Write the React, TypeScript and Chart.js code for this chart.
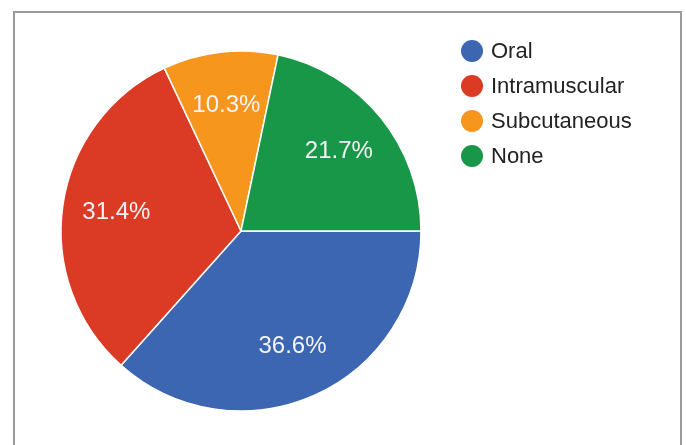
import React, { useEffect, useRef } from "react";
import { Chart, registerables } from "chart.js";

Chart.register(...registerables);

const categories = ["Oral", "Intramuscular", "Subcutaneous", "None"];
const values = [36.6, 31.4, 10.3, 21.7];
const colors = ["#3c66b1", "#db3a24", "#f7961d", "#199748"];

const FONT = "'Liberation Sans', Arial, sans-serif";

const sliceLabels = {
  id: "sliceLabels",
  afterDatasetsDraw(chart: any) {
    const ctx = chart.ctx;
    const meta = chart.getDatasetMeta(0);
    const ds = chart.data.datasets[0];
    const total = (ds.data as number[]).reduce((a, b) => a + b, 0);
    ctx.save();
    ctx.font = `24px ${FONT}`;
    ctx.fillStyle = "#f4f4f8";
    ctx.textAlign = "center";
    ctx.textBaseline = "middle";
    meta.data.forEach((arc: any, i: number) => {
      const { x, y, startAngle, endAngle, outerRadius } = arc.getProps(
        ["x", "y", "startAngle", "endAngle", "outerRadius"],
        true
      );
      const mid = (startAngle + endAngle) / 2;
      const r = outerRadius * 0.7;
      const pct = ((ds.data[i] as number) / total) * 100;
      ctx.fillText(pct.toFixed(1) + "%", x + Math.cos(mid) * r, y + Math.sin(mid) * r);
    });
    ctx.restore();
  },
};

const customLegend = {
  id: "customLegend",
  afterDraw(chart: any) {
    const ctx = chart.ctx;
    const labels = chart.data.labels as string[];
    const bg = chart.data.datasets[0].backgroundColor as string[];
    ctx.save();
    ctx.font = `22px ${FONT}`;
    ctx.textBaseline = "middle";
    ctx.textAlign = "left";
    labels.forEach((lab, i) => {
      const cy = 51 + i * 35;
      ctx.beginPath();
      ctx.fillStyle = bg[i];
      ctx.arc(472, cy, 11, 0, Math.PI * 2);
      ctx.fill();
      ctx.fillStyle = "#222222";
      ctx.fillText(lab, 491, cy + 1);
    });
    ctx.restore();
  },
};

export default function App() {
  const ref = useRef<HTMLCanvasElement>(null);
  useEffect(() => {
    if (!ref.current) return;
    const chart = new Chart(ref.current, {
      type: "pie",
      data: {
        labels: categories,
        datasets: [
          {
            data: values,
            backgroundColor: colors,
            borderColor: "#ffffff",
            borderWidth: 1.5,
          },
        ],
      },
      options: {
        animation: false,
        responsive: false,
        rotation: 90,
        radius: 180,
        layout: { padding: { left: 10, right: 214, top: 27, bottom: 10 } },
        plugins: {
          legend: { display: false },
          tooltip: { enabled: false },
        },
      },
      plugins: [sliceLabels, customLegend],
    });
    return () => chart.destroy();
  }, []);
  return (
    <div style={{ position: "fixed", left: 0, top: 0, width: 686, height: 445, background: "#fff", overflow: "hidden" }}>
      <div
        style={{
          position: "absolute",
          left: 13,
          top: 11,
          width: 669,
          height: 460,
          border: "2px solid #9a9a9a",
          boxSizing: "border-box",
        }}
      />
      <canvas ref={ref} width={686} height={445} style={{ position: "absolute", left: 0, top: 0, width: 686, height: 445 }} />
    </div>
  );
}
